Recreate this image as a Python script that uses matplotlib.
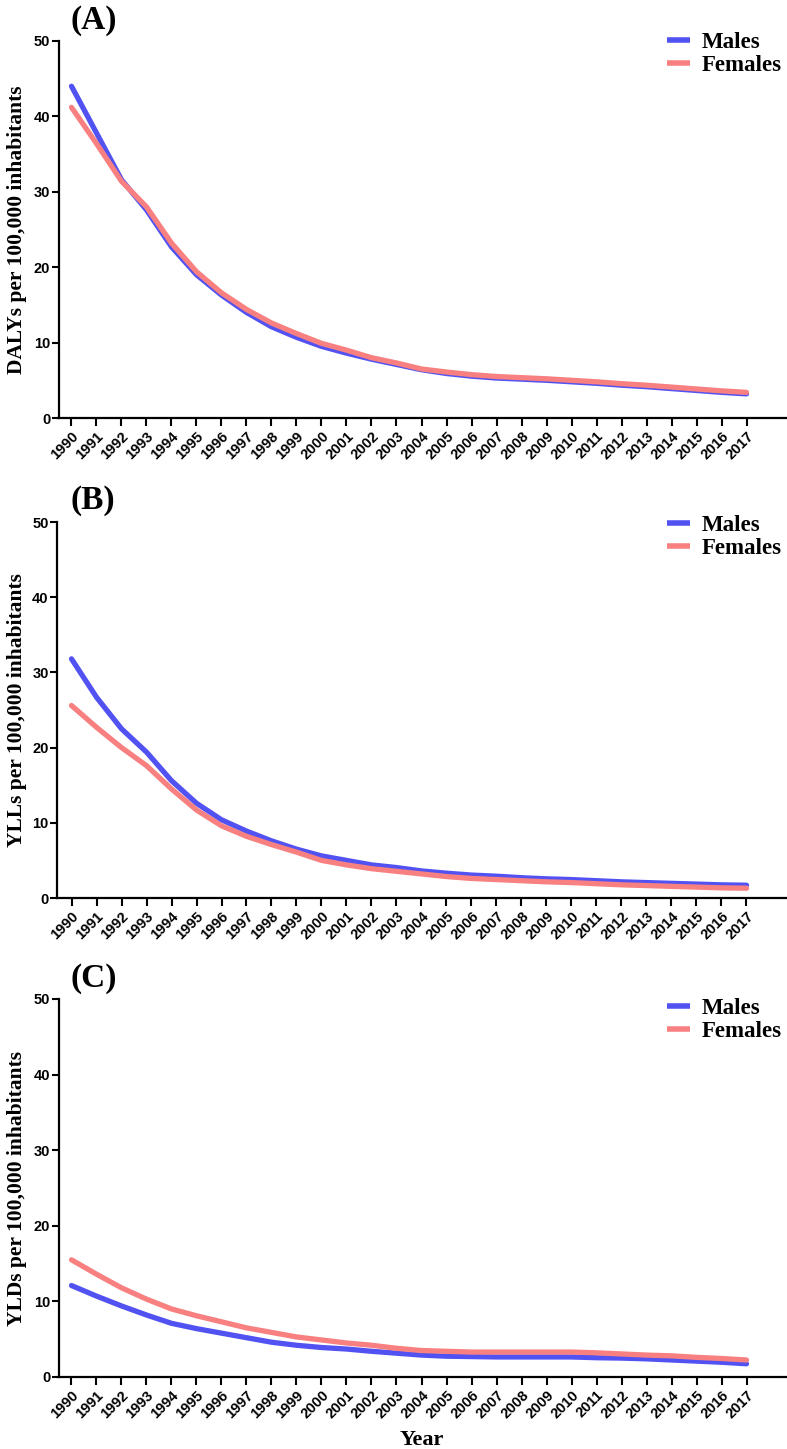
import matplotlib
matplotlib.use("Agg")
import matplotlib.pyplot as plt

years = list(range(1990, 2018))

dalys_males = [44.0, 37.8, 31.6, 27.6, 22.7, 19.0, 16.3, 14.0, 12.1, 10.7, 9.5, 8.6, 7.8, 7.1, 6.4,
               5.9, 5.55, 5.3, 5.15, 5.0, 4.8, 4.6, 4.35, 4.15, 3.9, 3.65, 3.4, 3.2]
dalys_females = [41.2, 36.4, 31.4, 28.0, 23.2, 19.4, 16.6, 14.4, 12.6, 11.2, 9.9, 9.0, 8.0, 7.3, 6.5,
                 6.1, 5.75, 5.5, 5.35, 5.2, 5.0, 4.8, 4.55, 4.35, 4.1, 3.85, 3.6, 3.4]

ylls_males = [31.8, 26.7, 22.5, 19.4, 15.6, 12.6, 10.4, 8.9, 7.6, 6.5, 5.6, 5.0, 4.4, 4.05, 3.6,
              3.3, 3.05, 2.9, 2.7, 2.55, 2.45, 2.3, 2.15, 2.05, 1.95, 1.85, 1.75, 1.7]
ylls_females = [25.6, 22.7, 20.0, 17.6, 14.5, 11.7, 9.6, 8.2, 7.1, 6.1, 5.0, 4.4, 3.9, 3.55, 3.2,
                2.85, 2.6, 2.45, 2.3, 2.15, 2.05, 1.9, 1.75, 1.65, 1.55, 1.45, 1.35, 1.3]

ylds_males = [12.1, 10.7, 9.4, 8.2, 7.1, 6.4, 5.8, 5.2, 4.6, 4.2, 3.9, 3.7, 3.4, 3.15, 2.9,
              2.75, 2.7, 2.65, 2.65, 2.65, 2.65, 2.55, 2.5, 2.4, 2.25, 2.1, 1.95, 1.75]
ylds_females = [15.5, 13.6, 11.8, 10.3, 9.0, 8.1, 7.3, 6.5, 5.9, 5.3, 4.9, 4.5, 4.2, 3.8, 3.5,
                3.4, 3.3, 3.3, 3.3, 3.3, 3.3, 3.2, 3.05, 2.9, 2.8, 2.6, 2.45, 2.25]

panel_letters = ["(A)", "(B)", "(C)"]
ylabels = ["DALYs per 100,000 inhabitants", "YLLs per 100,000 inhabitants",
           "YLDs per 100,000 inhabitants"]
series_labels = ["Males", "Females"]
yticks = [0, 10, 20, 30, 40, 50]

BLUE = "#5252F2"
PINK = "#F88080"
SERIF = "Liberation Serif"
SANS = "Liberation Sans"

W, H = 787, 1449
fig = plt.figure(figsize=(W / 100, H / 100), dpi=100)

# (left_px, top_px(50), bottom_px(0))
layout = [(58.5, 41, 418), (57, 522, 898), (58.5, 999, 1377)]
data = [(dalys_males, dalys_females), (ylls_males, ylls_females), (ylds_males, ylds_females)]
legend_y = [44, 527, 1010]

for i, ((lpx, tpx, bpx), (m, f)) in enumerate(zip(layout, data)):
    aw = 786 - lpx
    ax = fig.add_axes([lpx / W, 1 - bpx / H, aw / W, (bpx - tpx) / H])
    ax.plot(years, m, color=BLUE, lw=3.8, solid_capstyle="round", label=series_labels[0])
    ax.plot(years, f, color=PINK, lw=3.8, solid_capstyle="round", label=series_labels[1])
    x0 = 1990 - (71.5 - lpx) / 25.0
    ax.set_xlim(x0, x0 + aw / 25.0)
    ax.set_ylim(0, 50)
    ax.set_yticks(yticks)
    ax.set_yticklabels([str(v) for v in yticks], fontfamily=SANS, fontweight="bold", fontsize=10.5)
    ax.set_xticks(years)
    ax.set_xticklabels([str(y) for y in years], rotation=45, ha="right", rotation_mode="anchor",
                       fontfamily=SANS, fontweight="bold", fontsize=10.5)
    for s in ["top", "right"]:
        ax.spines[s].set_visible(False)
    for s in ["left", "bottom"]:
        ax.spines[s].set_linewidth(1.6)
    ax.tick_params(axis="x", length=6, width=1.5, pad=2)
    ax.tick_params(axis="y", length=5, width=1.5, pad=1)
    ax.set_ylabel(ylabels[i], fontfamily=SERIF, fontweight="bold", fontsize=15.5)
    ax.yaxis.set_label_coords(-(lpx - 27) / aw, 0.5)
    fig.text(71 / W, 1 - (tpx - 21) / H, panel_letters[i], fontfamily=SERIF, fontweight="bold",
             fontsize=24, ha="left", va="center")
    leg = ax.legend(loc="upper left",
                    bbox_to_anchor=((667 - lpx) / aw, 1 - (legend_y[i] - 12 - tpx) / (bpx - tpx)),
                    frameon=False, prop={"family": SERIF, "weight": "bold", "size": 16.5},
                    handlelength=1.0, handletextpad=0.5, labelspacing=0.1, borderaxespad=0,
                    borderpad=0)
    for h in leg.get_lines():
        h.set_linewidth(4)
        h.set_solid_capstyle("butt")
    if i == 2:
        ax.set_xlabel("Year", fontfamily=SERIF, fontweight="bold", fontsize=16, labelpad=6)

fig.savefig("out.png", dpi=100)
